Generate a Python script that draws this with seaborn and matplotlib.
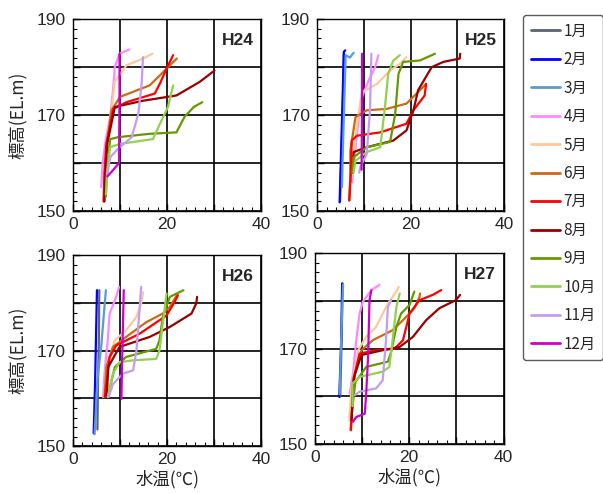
import pandas as pd
import seaborn as sns
import matplotlib.pyplot as plt
from matplotlib.lines import Line2D
from matplotlib.ticker import MultipleLocator

sns.set_theme(style="ticks")
plt.rcParams["font.family"] = ["Noto Sans CJK JP", "DejaVu Sans"]

# Month labels and line colours
months = ["1月", "2月", "3月", "4月", "5月", "6月", "7月", "8月", "9月", "10月", "11月", "12月"]
month_colors = ["#5a6275", "#0000ff", "#5b9bd5", "#ff88ff", "#fcc99a", "#cc6a14",
                "#ff0000", "#990000", "#669900", "#92d050", "#c49cf0", "#cc00cc"]
years = ["H24", "H25", "H26", "H27"]

# Vertical water-temperature profiles: (temperature degC, elevation EL.m)
h24 = {
    "4月": [(6.0, 155), (6.3, 160), (7.0, 165), (7.9, 169.6), (8.5, 175), (8.9, 180), (9.9, 182.8), (12.0, 183.7)],
    "5月": [(6.6, 153), (6.8, 160), (7.4, 166), (8.2, 171), (8.9, 177), (11.4, 180.4), (14.9, 181.8), (16.9, 182.8)],
    "6月": [(6.6, 152), (6.8, 158), (7.2, 164), (8.2, 171), (10, 173.8), (16.3, 176.2), (18.5, 178.3), (20.2, 180), (22.1, 181.8)],
    "7月": [(6.5, 152), (6.7, 158), (7.1, 164), (8.6, 171.3), (11.4, 172.7), (17.4, 174.5), (18.5, 176.6), (19.9, 179.7), (21.3, 182.5)],
    "8月": [(6.7, 152), (6.9, 158), (7.3, 164), (8.9, 171.7), (14.9, 173), (22, 174.1), (26.9, 176.9), (30.1, 179.3)],
    "9月": [(7.0, 153), (7.2, 158), (7.9, 165), (9.6, 165.4), (16.3, 166.1), (22, 166.4), (23.7, 169.6), (25.7, 171.7), (27.5, 172.7)],
    "10月": [(7.0, 153.5), (7.3, 158), (7.9, 163.3), (10, 164), (17, 165), (18.5, 168.2), (20.2, 171.7), (21.3, 176.2)],
    "11月": [(7.2, 157), (7.9, 161.2), (9.6, 163), (12.5, 165.4), (13.9, 170.3), (14.6, 176.5), (14.9, 182.1)],
    "12月": [(7.3, 157.2), (8.5, 158.5), (9.8, 160), (9.9, 175), (9.9, 182.8)],
}
h25 = {
    "1月": [(4.9, 152), (5.2, 162), (5.5, 172), (5.7, 182.8)],
    "2月": [(4.8, 151.8), (5.1, 162), (5.4, 172), (5.7, 183.2), (6.0, 183.5)],
    "3月": [(5.3, 155), (5.6, 166), (5.9, 176), (6.1, 182.5), (7.0, 182.0), (7.8, 183)],
    "4月": [(7.5, 156), (7.7, 158.4), (8.9, 169.6), (9.6, 173.8), (11, 177.2), (12.4, 180), (13.1, 182.5)],
    "5月": [(7.5, 157), (7.8, 161.9), (8.5, 168), (9.6, 174.8), (12.8, 176.5), (15.6, 179.3), (17.7, 180.7), (19.1, 182.1)],
    "6月": [(6.8, 152.2), (7.1, 157), (7.1, 162.6), (8.2, 169.6), (10.6, 171), (14.9, 171.3), (19.1, 172.4), (22, 175.2), (23.3, 176.5)],
    "7月": [(6.9, 152.2), (7.2, 158), (7.4, 164.7), (8.5, 165.7), (13.5, 166.4), (19.1, 168.2), (20.6, 171), (23, 174.1), (23.3, 176.5)],
    "8月": [(7.6, 158), (7.8, 162.3), (10.6, 163.3), (16.3, 164.7), (19.1, 166.8), (20.6, 171), (21.6, 175.2), (24.5, 180), (27, 181.1), (30.5, 181.8), (30.6, 182.8)],
    "9月": [(7.5, 158), (7.8, 161.2), (10.6, 163.3), (15.6, 164.4), (16.7, 170.3), (17.4, 178.6), (18.4, 181.1), (22, 181.4), (25.2, 182.8)],
    "10月": [(7.8, 158), (8.2, 160.5), (10.6, 162.3), (13.5, 163.3), (14.5, 171.7), (15.2, 178.6), (16.3, 181.4), (17.7, 182.5)],
    "11月": [(9.0, 158), (9.2, 159.1), (10.6, 161.9), (11.3, 171), (11.6, 182.8)],
    "12月": [(9.5, 158.6), (9.6, 170), (9.6, 182.8)],
}
h26 = {
    "1月": [(5.2, 153.5), (5.3, 162), (5.5, 172), (5.6, 182.7)],
    "2月": [(4.4, 152.7), (4.7, 163), (4.9, 173), (5.1, 182.7)],
    "3月": [(4.6, 152.5), (5.2, 164), (6.0, 170.8), (6.7, 179.2), (7.0, 182.7)],
    "4月": [(6.4, 160.3), (6.7, 165.2), (7.4, 172.2), (7.8, 177.8), (9.2, 181.3), (9.8, 183.4)],
    "5月": [(6.6, 160.3), (7.0, 166), (8.9, 172.2), (11.3, 174.3), (13.5, 177.1), (14.5, 179.9), (14.9, 182.3)],
    "6月": [(6.7, 160.3), (7.1, 166.6), (8.5, 170.8), (11.3, 172.9), (15.6, 176), (19.1, 177.8), (20.6, 179.2), (22.3, 182)],
    "7月": [(6.8, 160.3), (7.8, 168.7), (9.2, 171.1), (14.2, 173.6), (19.9, 177.4), (21.6, 180.2), (22.3, 181.6)],
    "8月": [(7.2, 160.3), (7.5, 166.6), (9.9, 170.8), (16.3, 172.9), (20.6, 175), (25.2, 177.8), (26.2, 179.9), (26.4, 181.3)],
    "9月": [(7.4, 160.3), (8.9, 166.6), (11.3, 168.7), (17.7, 170.4), (18.4, 172.2), (19.1, 177.1), (20.6, 181.3), (23.5, 182.7)],
    "10月": [(7.4, 160.3), (8.5, 165.2), (9.9, 167.6), (12.8, 168), (17.7, 168.3), (18.4, 170.1), (19.1, 175.7), (19.9, 182)],
    "11月": [(7.6, 160.3), (8.5, 163), (10.6, 165.2), (12.8, 165.9), (13.5, 170.1), (14.2, 179.2), (14.5, 183.4)],
    "12月": [(10.3, 159.9), (10.5, 170), (10.8, 182.7)],
}
h27 = {
    "1月": [(5.4, 160), (5.7, 172), (5.9, 183.7)],
    "2月": [(5.2, 159.9), (5.6, 171.8), (5.8, 183.7)],
    "3月": [(5.3, 160.5), (5.6, 172), (6.0, 183.5)],
    "4月": [(7.4, 160.6), (8.1, 164.8), (8.8, 171.8), (9.5, 177.4), (10.2, 179.9), (12, 182.3), (13.7, 183.4)],
    "5月": [(7.3, 155), (7.8, 162), (9.2, 169.7), (10.9, 172.5), (13, 174.6), (14.4, 177.4), (15.8, 179.9), (17.3, 182), (17.8, 183)],
    "6月": [(7.7, 152.9), (8.1, 163.4), (9.9, 169.7), (12.3, 171.8), (16.5, 173.9), (19.4, 176.7), (21.1, 178.5), (22.2, 180.9), (22.3, 181.6)],
    "7月": [(7.6, 153), (8.5, 164.8), (9.5, 169), (13, 169.7), (16.9, 170), (18.7, 171.8), (20.1, 177.4), (22.2, 180.2), (25, 181.3), (26.8, 182.3)],
    "8月": [(7.8, 155), (8.3, 164), (9.9, 168.7), (14.4, 169.7), (18, 170.4), (20.8, 172.5), (23.6, 176), (26.4, 178.5), (29.9, 180.2), (30.8, 181.3)],
    "9月": [(8.0, 158), (8.6, 163), (10.9, 166.2), (15.5, 167.3), (16.2, 169.4), (17.3, 174.6), (18.3, 177.4), (20.1, 179.2), (21.1, 182)],
    "10月": [(8.0, 158), (8.0, 162.7), (9.5, 164.1), (14.4, 165.2), (15.8, 166.2), (16.5, 171.8), (17.3, 178.8), (18, 181.6)],
    "11月": [(8.5, 160.3), (9.5, 161), (13, 161.7), (14.4, 163.4), (15.1, 171.8), (15.5, 178.8), (16.2, 180.2)],
    "12月": [(8.1, 154.7), (8.8, 155.7), (10.6, 156.4), (10.9, 160.6), (11.3, 168.3), (11.6, 180.2), (12, 182.3)],
}

x_ticks = [0, 10, 20, 30, 40]
x_labels = ["0", "", "20", "", "40"]
y_ticks = [150, 160, 170, 180, 190]
y_labels = ["150", "", "170", "", "190"]

# Long table for seaborn
rows = []
for year, prof in zip(years, [h24, h25, h26, h27]):
    for m, pts in prof.items():
        for i, (t, z) in enumerate(pts):
            rows.append({"year": year, "month": m, "order": i, "temp": t, "elev": z})
df = pd.DataFrame(rows)
palette = dict(zip(months, month_colors))

fig = plt.figure(figsize=(6.03, 4.93), dpi=100)
positions = [(0.121, 0.572, 0.312, 0.389), (0.526, 0.572, 0.310, 0.389),
             (0.121, 0.095, 0.312, 0.387), (0.522, 0.099, 0.313, 0.387)]

for k, (year, pos) in enumerate(zip(years, positions)):
    ax = fig.add_axes(pos)
    sub = df[df["year"] == year]
    sns.lineplot(data=sub, x="temp", y="elev", hue="month", hue_order=months,
                 palette=palette, sort=False, estimator=None, units="month",
                 linewidth=1.6, legend=False, ax=ax)
    ax.set_xticks(x_ticks, labels=x_labels)
    ax.set_yticks(y_ticks, labels=y_labels)
    ax.set_xlim(0, 40)
    ax.set_ylim(150, 190)
    ax.xaxis.set_minor_locator(MultipleLocator(2))
    ax.yaxis.set_minor_locator(MultipleLocator(2))
    ax.tick_params(which="major", direction="in", length=5, width=1, labelsize=12.5,
                   bottom=True, left=True, top=False, right=False, color="black")
    ax.tick_params(axis="x", which="major", pad=4)
    ax.tick_params(axis="y", which="major", pad=5)
    ax.tick_params(which="minor", direction="in", length=3, width=0.8,
                   bottom=True, left=True, top=False, right=False, color="black")
    for lab in ax.get_xticklabels() + ax.get_yticklabels():
        lab.set_family("Liberation Sans")
    ax.grid(True, which="major", color="black", linewidth=1.2)
    ax.set_axisbelow(True)
    for s in ax.spines.values():
        s.set_visible(True)
        s.set_color("black")
        s.set_linewidth(1)
    ax.text(0.96, 0.89, year, transform=ax.transAxes, ha="right", va="center",
            fontsize=12.5, fontweight="bold", family="Liberation Sans")
    ax.set_xlabel("水温(℃)" if k >= 2 else "", fontsize=12.5, labelpad=2)
    ax.set_ylabel("標高(EL.m)" if k % 2 == 0 else "", fontsize=12.5, labelpad=7)

handles = [Line2D([], [], color=c, linewidth=2) for c in month_colors]
leg = fig.legend(handles, months, loc="upper left", bbox_to_anchor=(523 / 603, 1 - 15 / 493),
                 fontsize=11, frameon=True, fancybox=True, handlelength=1.9,
                 handletextpad=0.25, labelspacing=0.75, borderpad=0.5, borderaxespad=0)
leg.get_frame().set_edgecolor("#333333")
leg.get_frame().set_linewidth(1)

fig.savefig("out.png", dpi=100)
